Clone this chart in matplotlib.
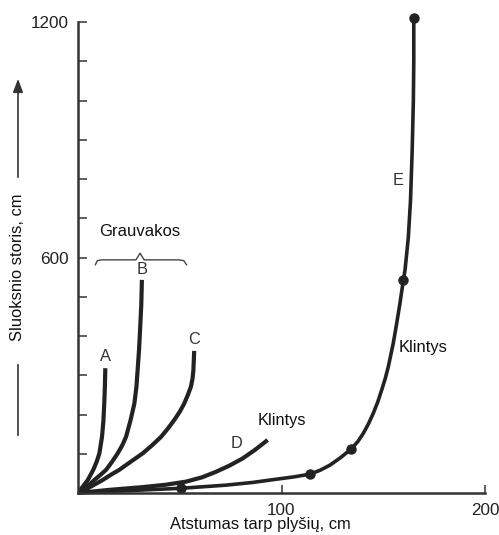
import numpy as np
import matplotlib.pyplot as plt
from matplotlib.path import Path
from matplotlib.patches import PathPatch

plt.rcParams['font.family'] = ['Liberation Sans', 'DejaVu Sans']

# krzywe (x: cm, y: cm)
a_x = [0, 2.2, 4.8, 7.5, 9.2, 10.5, 11.8, 12.5, 12.9, 13.2, 13.4, 13.4]
a_y = [0, 15, 33, 59, 80, 101, 143, 185, 228, 270, 313, 318]
b_x = [0, 3.5, 8.0, 11.0, 13.8, 16.8, 19.5, 21.8, 23.6, 25.8, 27.7, 28.7, 29.3, 30.0, 30.5, 31.1, 31.4]
b_y = [0, 12, 33, 46, 59, 80, 101, 122, 143, 185, 228, 270, 313, 365, 415, 480, 543]
c_x = [0, 5.5, 12.1, 16.0, 20.3, 26.0, 31.8, 36.5, 40.8, 44.3, 47.3, 50.0, 52.2, 54.0, 55.5, 56.3, 56.7, 57.1]
c_y = [0, 14, 33, 46, 59, 80, 101, 122, 143, 165, 186, 207, 228, 250, 271, 292, 313, 362]
d_x = [0, 15.4, 31.8, 43.0, 53.1, 61.0, 67.8, 74.5, 80.9, 87.0, 93.2]
d_y = [0, 8, 15, 21, 29, 40, 54, 70, 88, 110, 135]
e_x = [0, 20, 50.6, 72.7, 86.0, 97.3, 106.0, 114, 119.0, 123.8, 129.0, 134.2, 137.5, 140.2, 142.8,
       145.1, 147.3, 149.2, 151.0, 152.5, 154.9, 156.6, 158.2, 159.9, 160.7, 162.3, 163.4, 164.2,
       164.8, 165, 165]
e_y = [0, 5, 12, 20, 27, 35, 41, 48, 58, 71, 90, 112, 131, 152, 177,
       203, 232, 262, 292, 322, 381, 432, 483, 543, 568, 650, 746, 870,
       1001, 1100, 1210]
# punkty pomiarowe na krzywej E
dot_x = [50.6, 114, 134.2, 159.9, 165]
dot_y = [12, 48, 112, 543, 1210]

y_ticks = list(range(100, 1300, 100))
y_labels = ['600' if v == 600 else '1200' if v == 1200 else '' for v in y_ticks]
x_ticks = [100, 200]

ink = '#222222'

fig = plt.figure(figsize=(4.99, 5.35), dpi=100)
ax = fig.add_axes([78/499, 1 - 493/535, 407/499, 471/535])

for xs, ys in [(a_x, a_y), (b_x, b_y), (c_x, c_y), (d_x, d_y)]:
    ax.plot(xs, ys, color=ink, lw=3.0, solid_capstyle='butt', solid_joinstyle='round')
ax.plot(e_x, e_y, color=ink, lw=2.6, solid_capstyle='butt', solid_joinstyle='round', clip_on=False)
ax.plot(dot_x, dot_y, 'o', color=ink, ms=6.5, clip_on=False)

ax.set_xlim(0, 200)
ax.set_ylim(0, 1200)
for s in ['top', 'right']:
    ax.spines[s].set_visible(False)
for s in ['left', 'bottom']:
    ax.spines[s].set_linewidth(1.8)
    ax.spines[s].set_color('#333333')

ax.set_yticks(y_ticks)
ax.set_yticklabels(y_labels)
ax.set_xticks(x_ticks)
ax.tick_params(axis='y', direction='in', length=6.5, width=1.2, color='#444444', pad=7, labelsize=12.3, labelcolor='#222222')
ax.tick_params(axis='x', direction='in', length=5.5, width=1.2, color='#444444', pad=7, labelsize=12.3, labelcolor='#222222')

ax.set_xlabel('Atstumas tarp plyšių, cm', fontsize=11.9, color='#111111')
ax.xaxis.set_label_coords(0.447, -0.052)

# etykiety krzywych
lab = dict(fontsize=11.8, color='#333333', ha='center', va='center')
ax.annotate('A', (a_x[-1], a_y[-1]), xytext=(0, 8.5), textcoords='offset points', **lab)
ax.annotate('B', (b_x[-1], b_y[-1]), xytext=(0, 7.5), textcoords='offset points', **lab)
ax.annotate('C', (c_x[-1], c_y[-1]), xytext=(0, 8.5), textcoords='offset points', **lab)
ax.annotate('D', (d_x[-1], d_y[-1]), xytext=(-22.5, -2.5), textcoords='offset points', **lab)
ax.annotate('Klintys', (d_x[-1], d_y[-1]), xytext=(10, 14), textcoords='offset points', **dict(lab, color='#111111'))
ax.text(157.7, 370, 'Klintys', fontsize=11.9, color='#111111', ha='left', va='center')
ax.text(157.2, 797, 'E', fontsize=11.8, color='#333333', ha='center', va='center')

# klamra "Grauvakos"
ax.text(30.5, 665, 'Grauvakos', fontsize=12, color='#111111', ha='center', va='center')
brace = Path([(8.4, 580), (9.5, 592), (11.5, 594), (28.5, 594), (30.5, 611),
              (32.5, 594), (49.5, 594), (52, 592), (53.5, 580)],
             [Path.MOVETO] + [Path.LINETO] * 8)
ax.add_patch(PathPatch(brace, fill=False, lw=1.0, color='#444444', joinstyle='round'))

# opis osi y ze strzałką
fig.text(18/499, 1 - 267/535, 'Sluoksnio storis, cm', rotation=90, ha='center', va='center', fontsize=11.9, color='#111111')
fig.add_artist(plt.Line2D([18/499, 18/499], [1 - 365/535, 1 - 435/535], color='#333333', lw=1.2))
ax.annotate('', xy=(18/499, 1 - 76/535), xytext=(18/499, 1 - 180/535), xycoords='figure fraction',
            textcoords='figure fraction',
            arrowprops=dict(arrowstyle='-|>,head_length=0.8,head_width=0.3', color='#333333', lw=1.2))

fig.savefig('out.png', dpi=100)
